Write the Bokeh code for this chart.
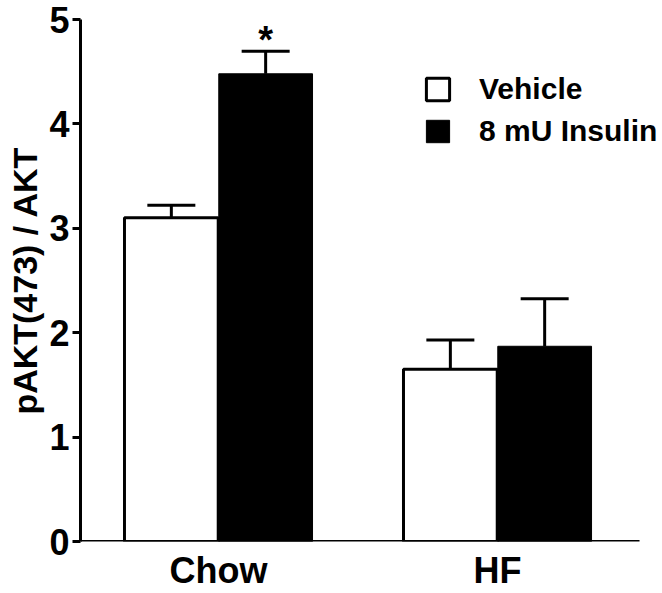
from bokeh.plotting import figure
from bokeh.models import ColumnDataSource, Whisker, TeeHead, FixedTicker, Legend, LegendItem, Range1d
from bokeh.core.properties import value
from bokeh.embed import file_html
from bokeh.resources import INLINE

groups = ["Chow", "HF"]
vehicle = [3.10, 1.65]
vehicle_err = [0.12, 0.28]
insulin = [4.48, 1.87]
insulin_err = [0.215, 0.455]
series_names = ["Vehicle", "8 mU Insulin"]
y_ticks = [0, 1, 2, 3, 4, 5]
y_label = "pAKT(473) / AKT"

FONT = "Liberation Sans"
idx = list(range(len(groups)))
off = 0.169
bw = 0.336
x_start, x_axis_end, x_view_end = -0.4946, 1.509, 1.577

src_v = ColumnDataSource(dict(x=[i - off for i in idx], top=vehicle,
                              upper=[v + e for v, e in zip(vehicle, vehicle_err)]))
src_i = ColumnDataSource(dict(x=[i + off for i in idx], top=insulin,
                              upper=[v + e for v, e in zip(insulin, insulin_err)]))

p = figure(width=662, height=593, output_backend="svg", toolbar_location=None,
           x_range=Range1d(x_start, x_view_end), y_range=Range1d(0, 5),
           min_border_left=80, min_border_right=4, min_border_top=19, min_border_bottom=48)
p.outline_line_color = None
p.grid.visible = False
p.background_fill_color = "white"
p.border_fill_color = "white"

r_v = p.vbar(x="x", top="top", width=bw, source=src_v, fill_color="white",
             line_color="black", line_width=3)
r_i = p.vbar(x="x", top="top", width=bw, source=src_i, fill_color="black",
             line_color="black", line_width=1)

# x baseline (axis line stops short of the right edge)
p.segment(x0=[x_start], y0=[0], x1=[x_axis_end], y1=[0], line_width=3, line_color="black")

for src in (src_v, src_i):
    w = Whisker(base="x", lower="top", upper="upper", source=src, dimension="height",
                line_width=3, line_color="black", lower_head=None,
                upper_head=TeeHead(size=48, line_width=3, line_color="black"))
    p.add_layout(w)

# significance marker
p.text(x=[src_i.data["x"][0]], y=[src_i.data["upper"][0]], text=["*"],
       text_font=value(FONT), text_font_style="bold", text_font_size="38px",
       text_align="center", text_baseline="middle", y_offset=-11, text_color="black")

# axes
p.xaxis.ticker = FixedTicker(ticks=idx)
p.xaxis.major_label_overrides = {i: g for i, g in zip(idx, groups)}
p.xaxis.axis_line_color = None
p.xaxis.major_tick_line_color = None
p.xaxis.major_tick_out = 0
p.xaxis.major_tick_in = 0
p.xaxis.minor_tick_line_color = None
p.xaxis.major_label_standoff = 8
p.yaxis.ticker = FixedTicker(ticks=y_ticks)
p.yaxis.axis_line_width = 3
p.yaxis.axis_line_color = "black"
p.yaxis.minor_tick_line_color = None
p.yaxis.major_tick_out = 8
p.yaxis.major_tick_in = 0
p.yaxis.major_tick_line_width = 3
p.yaxis.major_label_standoff = 3
p.yaxis.axis_label = y_label
p.yaxis.axis_label_standoff = 2
p.yaxis.axis_label_text_font = FONT
p.yaxis.axis_label_text_font_style = "bold"
p.yaxis.axis_label_text_font_size = "34px"
p.yaxis.axis_label_text_color = "black"
for ax in (p.xaxis, p.yaxis):
    ax.major_label_text_font = FONT
    ax.major_label_text_font_style = "bold"
    ax.major_label_text_font_size = "36px"
    ax.major_label_text_color = "black"

legend = Legend(items=[LegendItem(label=series_names[0], renderers=[r_v]),
                       LegendItem(label=series_names[1], renderers=[r_i])],
                location=(343, 393), padding=0, margin=0, spacing=8,
                glyph_width=29, glyph_height=28, label_standoff=27,
                label_text_font=FONT, label_text_font_style="bold",
                label_text_font_size="30px", label_text_color="black",
                border_line_alpha=0, background_fill_alpha=0)
p.add_layout(legend)

open("out.html", "w").write(file_html(p, INLINE))
